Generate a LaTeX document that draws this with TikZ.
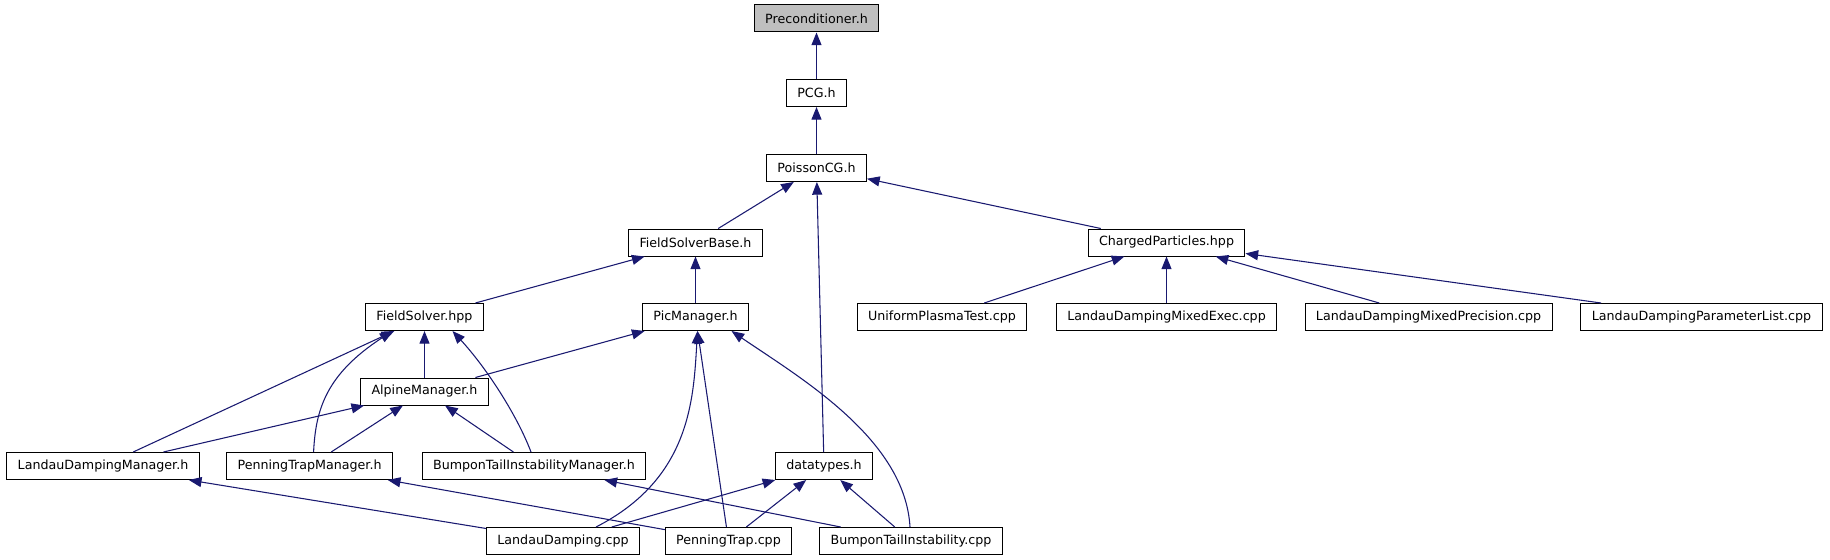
\documentclass[tikz,border=0pt]{standalone}
\usepackage{fontspec}
\setmainfont{DejaVu Sans}
\usetikzlibrary{arrows.meta,calc}
\definecolor{EdgeClr}{rgb}{0.098,0.098,0.439}
\definecolor{RootClr}{rgb}{0.749,0.749,0.749}

\begin{document}
\begin{tikzpicture}[x=0.75pt,y=-0.75pt,
  file/.style={draw=black,line width=0.75pt,fill=white,minimum height=20.25pt,
    inner xsep=8.2pt,inner ysep=0pt,font=\fontsize{9.5pt}{11pt}\selectfont},
  root/.style={file,fill=RootClr},
  dep/.style={draw=EdgeClr,line width=0.8pt,-{Triangle[length=9.5pt,width=7.5pt]}}]
\useasboundingbox (0,0) rectangle (1830,560);

% headers
\node[root] (prec) at (816.5,18.5) {Preconditioner.h};
\node[file] (pcg) at (816.5,93) {PCG.h};
\node[file] (poisson) at (816.5,168) {PoissonCG.h};
\node[file] (fsbase) at (695.5,242.5) {FieldSolverBase.h};
\node[file] (charged) at (1166.5,242.5) {ChargedParticles.hpp};
\node[file] (fsolver) at (424.5,317) {FieldSolver.hpp};
\node[file] (picmgr) at (695.5,317) {PicManager.h};
\node[file] (alpine) at (424.5,391.5) {AlpineManager.h};
\node[file] (ldmgr) at (103,466) {LandauDampingManager.h};
\node[file] (ptmgr) at (309.6,466) {PenningTrapManager.h};
\node[file] (botmgr) at (534,466) {BumponTailInstabilityManager.h};
\node[file] (dtypes) at (824,466) {datatypes.h};

% sources
\node[file] (uniform) at (942,317) {UniformPlasmaTest.cpp};
\node[file] (ldexec) at (1166.5,317) {LandauDampingMixedExec.cpp};
\node[file] (ldprec) at (1428.5,317) {LandauDampingMixedPrecision.cpp};
\node[file] (ldparam) at (1701.5,317) {LandauDampingParameterList.cpp};
\node[file] (ldcpp) at (563,541) {LandauDamping.cpp};
\node[file] (ptcpp) at (728.5,541) {PenningTrap.cpp};
\node[file] (botcpp) at (911,541) {BumponTailInstability.cpp};

\draw[dep] (pcg) -- (prec);
\draw[dep] (poisson) -- (pcg);
\draw[dep] (fsbase) -- (poisson);
\draw[dep] (charged) -- (poisson);
\draw[dep] (dtypes) -- (poisson);

\draw[dep] (fsolver) -- (fsbase);
\draw[dep] (picmgr) -- (fsbase);

\draw[dep] (uniform) -- (charged);
\draw[dep] (ldexec) -- (charged);
\draw[dep] (ldprec) -- (charged);
\draw[dep] (ldparam) -- (charged);

\draw[dep] (alpine) -- (fsolver);
\draw[dep] (ldmgr) -- (fsolver);
\draw[dep] ($(ptmgr.north)+(4,0)$) .. controls +(2,-43) and +(-66,43) .. ($(fsolver.south)+(-32,0)$);
\draw[dep] ($(botmgr.north)+(-3,0)$) .. controls +(-14,-37) and +(34,37) .. ($(fsolver.south)+(28,0)$);

\draw[dep] (alpine) -- (picmgr);
\draw[dep] ($(ldcpp.north)+(33,0)$) .. controls +(94,-48) and +(-4,69) .. ($(picmgr.south)+(2,0)$);
\draw[dep] (ptcpp) -- (picmgr);
\draw[dep] ($(botcpp.north)+(-1,0)$) .. controls +(-5,-88) and +(69,47) .. ($(picmgr.south)+(36,0)$);

\draw[dep] (ldmgr) -- (alpine);
\draw[dep] (ptmgr) -- (alpine);
\draw[dep] (botmgr) -- (alpine);

\draw[dep] (ldcpp) -- (ldmgr);
\draw[dep] (ptcpp) -- (ptmgr);
\draw[dep] (botcpp) -- (botmgr);

\draw[dep] (ldcpp) -- (dtypes);
\draw[dep] (ptcpp) -- (dtypes);
\draw[dep] (botcpp) -- (dtypes);

\end{tikzpicture}
\end{document}
